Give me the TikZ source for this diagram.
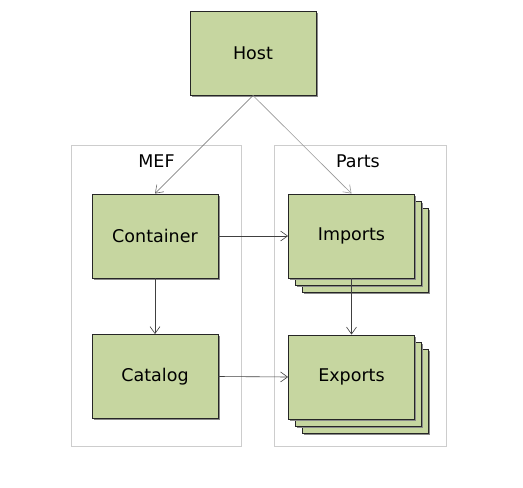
\documentclass[tikz,border=0pt]{standalone}
\usepackage{fontspec}
\setmainfont{DejaVu Sans}
\usetikzlibrary{arrows.meta}
\definecolor{boxfill}{HTML}{C6D6A0}
\definecolor{framegray}{HTML}{CDCDCD}
\definecolor{shadowgray}{HTML}{8A8A8A}
\begin{document}
\begin{tikzpicture}[x=1pt,y=-1pt,
  box/.style={draw=black!85,line width=0.9pt,fill=boxfill,minimum width=126pt,minimum height=84pt,inner sep=0pt,
    font=\fontsize{17.5}{20}\selectfont},
  shadowbox/.style={fill=shadowgray,minimum width=126pt,minimum height=84pt,inner sep=0pt},
  frame/.style={draw=framegray,line width=0.8pt,inner sep=0pt},
  flabel/.style={font=\fontsize{17.5}{20}\selectfont,inner sep=0pt},
  conn/.style={draw=black!75,line width=0.6pt,-{Straight Barb[length=7pt,width=10pt,line width=0.6pt]}},
  mconn/.style={draw=black!60,line width=0.6pt,-{Straight Barb[length=7pt,width=10pt,line width=0.6pt]}},
  lconn/.style={draw=black!40,line width=0.6pt,-{Straight Barb[length=7pt,width=10pt,line width=0.6pt]}}]
\useasboundingbox (0,0) rectangle (523,488);
\fill[white] (0,0) rectangle (523,488);
% frames
\node[frame,minimum width=170pt,minimum height=301pt] (mef) at (156.5,295.5) {};
\node[frame,minimum width=172pt,minimum height=301pt] (parts) at (360,295.5) {};
\node[flabel] (meflabel) at (156.5,161) {MEF};
\node[flabel] (partslabel) at (358,161) {Parts};
% shadows
\node[shadowbox] (hostsh) at (254.5,54.5) {};
\node[shadowbox] (containersh) at (156.5,237.5) {};
\node[shadowbox] (catalogsh) at (156.5,378) {};
% boxes
\node[box] (host) at (253,53) {Host};
\node[box] (container) at (155,236) {Container};
\node[box] (catalog) at (155,376.5) {Catalog};
% imports stack
\node[shadowbox] (imports3sh) at (366.5,251.5) {};
\node[box] (imports3) at (365,250) {};
\node[shadowbox] (imports2sh) at (359.5,244.5) {};
\node[box] (imports2) at (358,243) {};
\node[shadowbox] (importssh) at (353,237.5) {};
\node[box] (imports) at (351.5,236) {Imports};
% exports stack
\node[shadowbox] (exports3sh) at (366.5,392.5) {};
\node[box] (exports3) at (365,391) {};
\node[shadowbox] (exports2sh) at (359.5,385.5) {};
\node[box] (exports2) at (358,384) {};
\node[shadowbox] (exportssh) at (353,378.5) {};
\node[box] (exports) at (351.5,377) {Exports};
% connectors
\draw[mconn] (host.south) -- (container.north);
\draw[lconn] (host.south) -- (imports.north);
\draw[conn] (container.east) -- (imports.west);
\draw[conn] (catalog.east) -- (exports.west);
\draw[conn] (container.south) -- (catalog.north);
\draw[conn] (imports.south) -- (exports.north);
\end{tikzpicture}
\end{document}
